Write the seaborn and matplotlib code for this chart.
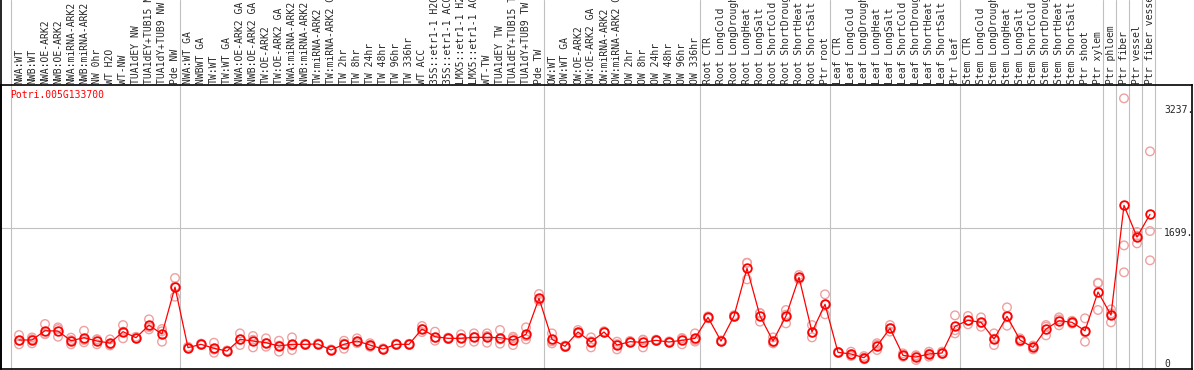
import numpy as np
import pandas as pd
import matplotlib
matplotlib.use("Agg")
import matplotlib.pyplot as plt
import seaborn as sns
from matplotlib.transforms import blended_transform_factory

gene = "Potri.005G133700"

samples = [
    # NW block
    "NWA:WT", "NWB:WT", "NWA:OE-ARK2", "NWB:OE-ARK2", "NWA:miRNA-ARK2", "NWB:miRNA-ARK2",
    "NW 0hr", "WT H2O", "WT-NW", "TUA1dEY NW", "TUA1dEY+TUB15 NW", "TUA1dY+TUB9 NW", "Pde NW",
    # TW block
    "NWA:WT GA", "NWBWT GA", "TW:WT", "TW:WT GA", "NWA:OE-ARK2 GA", "NWB:OE-ARK2 GA",
    "TW:OE-ARK2", "TW:OE-ARK2 GA", "NWA:miRNA-ARK2 GA", "NWB:miRNA-ARK2 GA", "TW:miRNA-ARK2",
    "TW:miRNA-ARK2 GA", "TW 2hr", "TW 8hr", "TW 24hr", "TW 48hr", "TW 96hr", "TW 336hr",
    "WT ACC", "35S::etr1-1 H2O", "35S::etr1-1 ACC", "LMX5::etr1-1 H2O", "LMX5::etr1-1 ACC",
    "WT-TW", "TUA1dEY TW", "TUA1dEY+TUB15 TW", "TUA1dY+TUB9 TW", "Pde TW",
    # OW block
    "OW:WT", "OW:WT GA", "OW:OE-ARK2", "OW:OE-ARK2 GA", "OW:miRNA-ARK2", "OW:miRNA-ARK2 GA",
    "OW 2hr", "OW 8hr", "OW 24hr", "OW 48hr", "OW 96hr", "OW 336hr",
    # root
    "Root CTR", "Root LongCold", "Root LongDrought", "Root LongHeat", "Root LongSalt",
    "Root ShortCold", "Root ShortDrought", "Root ShortHeat", "Root ShortSalt", "Ptr root",
    # leaf
    "Leaf CTR", "Leaf LongCold", "Leaf LongDrought", "Leaf LongHeat", "Leaf LongSalt",
    "Leaf ShortCold", "Leaf ShortDrought", "Leaf ShortHeat", "Leaf ShortSalt", "Ptr leaf",
    # stem
    "Stem CTR", "Stem LongCold", "Stem LongDrought", "Stem LongHeat", "Stem LongSalt",
    "Stem ShortCold", "Stem ShortDrought", "Stem ShortHeat", "Stem ShortSalt", "Ptr shoot",
    "Ptr xylem",
    "Ptr phloem", "Ptr fiber", "Ptr vessel", "Ptr fiber vessel",
]

# index where each block starts (plus the end)
block_starts = [0, 13, 41, 53, 63, 73, 84, 85, 86, 87, 88]

means = [
    300, 300, 416, 412, 291, 329, 287, 262, 404, 329, 484, 375, 962,
    204, 246, 196, 162, 308, 287, 266, 225, 246, 246, 250, 175, 246, 287, 237, 187, 246,
    246, 437, 341, 321, 321, 333, 333, 329, 300, 371, 821,
    308, 221, 400, 275, 400, 237, 279, 271, 296, 275, 296, 321,
    583, 287, 600, 1196, 600, 287, 600, 1083, 400, 746,
    146, 125, 79, 225, 446, 108, 87, 125, 137, 471,
    546, 521, 312, 596, 300, 208, 437, 541, 521, 416, 900,
    612, 1983, 1587, 1871,
]

rep_a = [
    362, 332, 500, 458, 329, 416, 310, 308, 487, 340, 558, 437, 1075,
    215, 255, 266, 170, 383, 350, 321, 291, 333, 255, 258, 182, 291, 321, 260, 195, 255,
    252, 475, 404, 330, 371, 383, 383, 425, 341, 458, 875,
    383, 230, 425, 333, 410, 279, 288, 300, 305, 283, 325, 383,
    595, 295, 610, 1266, 633, 333, 675, 1112, 487, 871,
    152, 154, 99, 260, 487, 133, 110, 154, 154, 608,
    600, 583, 383, 708, 321, 230, 487, 583, 540, 571, 1016,
    683, 3321, 1650, 2658,
]
rep_b = [
    246, 258, 375, 341, 246, 300, 246, 246, 321, 320, 433, 279, 841,
    195, 240, 141, 155, 237, 208, 216, 154, 175, 240, 244, 170, 191, 279, 215, 180, 238,
    240, 399, 291, 312, 266, 279, 266, 308, 237, 308, 800,
    258, 212, 380, 208, 392, 183, 270, 208, 288, 268, 246, 300,
    572, 280, 590, 1058, 529, 270, 508, 1058, 333, 621,
    140, 100, 59, 175, 405, 91, 50, 91, 125, 383,
    496, 466, 237, 479, 279, 183, 466, 483, 505, 279, 675,
    521, 1483, 1508, 1662,
]
rep_c = [
    292, 310, 373, 437, 298, 271, 305, 232, 404, 327, 461, 409, 970,
    202, 243, 181, 161, 304, 303, 261, 230, 230, 243, 248, 173, 256, 261, 236, 186, 245,
    246, 437, 328, 321, 326, 337, 350, 254, 322, 347, 788,
    283, 221, 395, 284, 398, 249, 279, 305, 295, 274, 317, 280,
    582, 286, 600, 1264, 638, 258, 617, 1079, 392, 746,
    146, 121, 79, 240, 446, 100, 101, 130, 132, 422,
    542, 514, 316, 601, 300, 211, 358, 557, 518, 398, 1009,
    632, 1146, 1603, 1296,
]

tick_vals = [3237, 1699, 0]
tick_text = ["3237.", "1699.", "0"]

sns.set_style("white")
plt.rcParams["font.family"] = ["DejaVu Sans Mono"]

W, H = 1194, 370
fig = plt.figure(figsize=(W / 100, H / 100), dpi=100)
# plot box: x 1..1192 px, y 85..369 px (from top)
ax = fig.add_axes([1 / W, 1 / H, 1191 / W, 284 / H])
ax.set_xlim((1 - 19) / 13, (1192 - 19) / 13)
ax.set_ylim(-62.5, 3487.5)

grey = "#c0c0c0"
head = 1 + 85 / 284

for k in block_starts:
    ax.axvline(k - 0.6, ymin=0, ymax=head, color=grey, lw=0.8, clip_on=False, zorder=1)
ax.axvline(ax.get_xlim()[0], ymin=0, ymax=head, color="black", lw=1.2, clip_on=False)
ax.axhline(tick_vals[1], xmin=0, xmax=(1161 - 1) / 1191, color=grey, lw=0.8, zorder=1)

pos = np.arange(len(samples))
reps = pd.DataFrame({
    "pos": np.concatenate([pos, pos, pos]),
    "value": rep_a + rep_b + rep_c,
})
sns.scatterplot(data=reps, x="pos", y="value", ax=ax, marker="o", s=38,
                facecolor="none", edgecolor="#f0a0a0", linewidth=1.0,
                legend=False, zorder=2)

df = pd.DataFrame({"pos": pos, "mean": means})
sns.lineplot(data=df, x="pos", y="mean", ax=ax, color="red", lw=0.9,
             marker="o", markersize=6.2, markerfacecolor="none",
             markeredgecolor="red", markeredgewidth=1.3, zorder=3)

# column labels above the plot box
tr = blended_transform_factory(ax.transData, ax.transAxes)
for i, lab in enumerate(samples):
    ax.text(i, 1 + 1.5 / 284, lab, rotation=90, ha="center", va="bottom",
            fontsize=7, transform=tr, clip_on=False)

ax.text(9 / 1191, 1 - 5 / 284, gene, color="red", fontsize=7,
        ha="left", va="top", transform=ax.transAxes)

tr2 = blended_transform_factory(ax.transAxes, ax.transData)
for v, t in zip(tick_vals, tick_text):
    ax.text((1164 - 1) / 1191, v, t, fontsize=7, ha="left",
            va="center" if v == 0 else "top", transform=tr2)

ax.set_xticks([])
ax.set_yticks([])
ax.set_xlabel("")
ax.set_ylabel("")
for s in ax.spines.values():
    s.set_visible(True)
    s.set_color("black")
    s.set_linewidth(1.2)

fig.savefig("out.png", dpi=100)
